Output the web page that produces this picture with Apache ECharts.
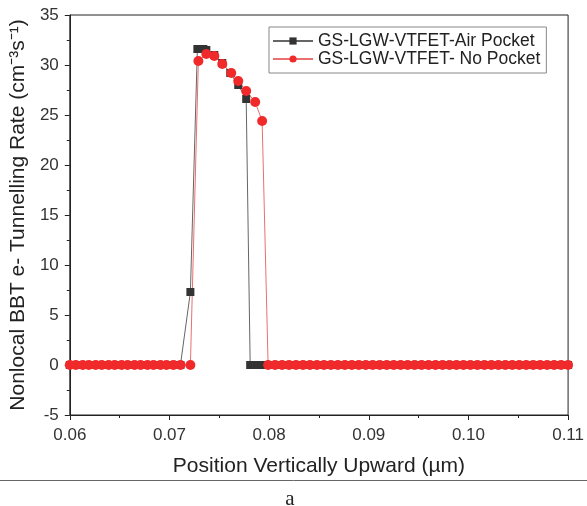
<!DOCTYPE html>
<html>
<head>
<meta charset="utf-8">
<script src="https://cdn.jsdelivr.net/npm/echarts@6/dist/echarts.min.js"></script>
<style>
  html, body { margin: 0; padding: 0; background: #fff; }
  #main { width: 587px; height: 506px; }
</style>
</head>
<body>
<div id="main"></div>
<script>
// x positions (um) and tunnelling rate values
const airX = [0.0600, 0.0606, 0.0613, 0.0619, 0.0626, 0.0632, 0.0639, 0.0645, 0.0652, 0.0658,
  0.0665, 0.0671, 0.0678, 0.0684, 0.0691, 0.0697, 0.0704, 0.0711, 0.0721, 0.0728,
  0.0731, 0.0734, 0.0737, 0.0745, 0.0753, 0.0761, 0.0769, 0.0777, 0.0781, 0.0785,
  0.0789, 0.0793, 0.0797, 0.0806, 0.0813, 0.0820, 0.0827, 0.0834, 0.0841, 0.0848,
  0.0855, 0.0862, 0.0869, 0.0876, 0.0883, 0.0890, 0.0897, 0.0904, 0.0911, 0.0918,
  0.0925, 0.0932, 0.0939, 0.0946, 0.0953, 0.0960, 0.0967, 0.0974, 0.0981, 0.0988,
  0.0995, 0.1002, 0.1009, 0.1016, 0.1023, 0.1030, 0.1037, 0.1044, 0.1051, 0.1058,
  0.1065, 0.1072, 0.1079, 0.1086, 0.1093, 0.1100];
const airY = [0, 0, 0, 0, 0, 0, 0, 0, 0, 0,
  0, 0, 0, 0, 0, 0, 0, 0, 7.3, 31.6,
  31.6, 31.6, 31.5, 31.0, 30.2, 29.2, 28.0, 26.6, 0, 0,
  0, 0, 0, 0, 0, 0, 0, 0, 0, 0,
  0, 0, 0, 0, 0, 0, 0, 0, 0, 0,
  0, 0, 0, 0, 0, 0, 0, 0, 0, 0,
  0, 0, 0, 0, 0, 0, 0, 0, 0, 0,
  0, 0, 0, 0, 0, 0];

const noX = [0.0600, 0.0606, 0.0613, 0.0619, 0.0626, 0.0632, 0.0639, 0.0645, 0.0652, 0.0658,
  0.0665, 0.0671, 0.0678, 0.0684, 0.0691, 0.0697, 0.0704, 0.0711, 0.0721, 0.0729,
  0.0737, 0.0745, 0.0753, 0.0762, 0.0769, 0.0777, 0.0786, 0.0793, 0.0799, 0.0806,
  0.0813, 0.0820, 0.0827, 0.0834, 0.0841, 0.0848, 0.0855, 0.0862, 0.0869, 0.0876,
  0.0883, 0.0890, 0.0897, 0.0904, 0.0911, 0.0918, 0.0925, 0.0932, 0.0939, 0.0946,
  0.0953, 0.0960, 0.0967, 0.0974, 0.0981, 0.0988, 0.0995, 0.1002, 0.1009, 0.1016,
  0.1023, 0.1030, 0.1037, 0.1044, 0.1051, 0.1058, 0.1065, 0.1072, 0.1079, 0.1086,
  0.1093, 0.1100];
const noY = [0, 0, 0, 0, 0, 0, 0, 0, 0, 0,
  0, 0, 0, 0, 0, 0, 0, 0, 0, 30.4,
  31.1, 30.9, 30.1, 29.2, 28.4, 27.4, 26.3, 24.4, 0, 0,
  0, 0, 0, 0, 0, 0, 0, 0, 0, 0,
  0, 0, 0, 0, 0, 0, 0, 0, 0, 0,
  0, 0, 0, 0, 0, 0, 0, 0, 0, 0,
  0, 0, 0, 0, 0, 0, 0, 0, 0, 0,
  0, 0];

const seriesNames = ['GS-LGW-VTFET-Air Pocket', 'GS-LGW-VTFET- No Pocket'];

const zip = (xs, ys) => xs.map((x, i) => [x, ys[i]]);

const chart = echarts.init(document.getElementById('main'));
const font = 'Liberation Sans, Arial, sans-serif';

chart.setOption({
  animation: false,
  backgroundColor: '#fff',
  grid: {
    left: 67, right: 18, top: 15, bottom: 91,
    show: true, borderColor: '#222', borderWidth: 1, backgroundColor: 'transparent'
  },
  legend: {
    orient: 'vertical',
    left: 269, top: 27,
    itemWidth: 40, itemHeight: 9, itemGap: 0,
    padding: [5, 6, 5, 3],
    borderColor: '#888', borderWidth: 1,
    textStyle: { fontFamily: font, fontSize: 17.5, lineHeight: 18, color: '#222', padding: [0, 0, 0, 0] },
    data: seriesNames
  },
  xAxis: {
    type: 'value', min: 0.06, max: 0.11, interval: 0.01,
    name: 'Position Vertically Upward (µm)',
    nameLocation: 'middle', nameGap: 41,
    nameTextStyle: { fontFamily: font, fontSize: 21, color: '#222' },
    axisLine: { onZero: false, lineStyle: { color: '#222' } },
    axisTick: { inside: false, length: 5, lineStyle: { color: '#222' } },
    minorTick: { show: true, splitNumber: 2, length: 3, lineStyle: { color: '#222' } },
    splitLine: { show: false },
    axisLabel: { fontFamily: font, fontSize: 17, color: '#333', margin: 12,
      formatter: v => v.toFixed(2) }
  },
  yAxis: {
    type: 'value', min: -5, max: 35, interval: 5,
    name: 'Nonlocal BBT e- Tunnelling Rate (cm⁻³s⁻¹)',
    nameLocation: 'middle', nameGap: 37,
    nameTextStyle: { fontFamily: font, fontSize: 21, color: '#222' },
    axisLine: { show: true, onZero: false, lineStyle: { color: '#222' } },
    axisTick: { show: true, inside: false, length: 5, lineStyle: { color: '#222' } },
    minorTick: { show: true, splitNumber: 2, length: 3, lineStyle: { color: '#222' } },
    splitLine: { show: false },
    axisLabel: { fontFamily: font, fontSize: 17, color: '#333', margin: 11 }
  },
  series: [
    {
      name: seriesNames[0], type: 'line',
      data: zip(airX, airY),
      symbol: 'rect', symbolSize: 8,
      itemStyle: { color: '#333' },
      lineStyle: { color: '#666', width: 1 }
    },
    {
      name: seriesNames[1], type: 'line',
      data: zip(noX, noY),
      symbol: 'circle', symbolSize: 10,
      itemStyle: { color: '#f02a2a' },
      lineStyle: { color: '#e87070', width: 1 }
    }
  ],
  graphic: [
    { type: 'line', shape: { x1: 0, y1: 480.5, x2: 587, y2: 480.5 },
      style: { stroke: '#666', lineWidth: 1 } },
    { type: 'text', x: 290, y: 499,
      style: { text: 'a', fontFamily: 'Liberation Serif, DejaVu Serif, serif', fontSize: 21,
        fill: '#222', align: 'center', verticalAlign: 'middle' } }
  ]
});
</script>
</body>
</html>
